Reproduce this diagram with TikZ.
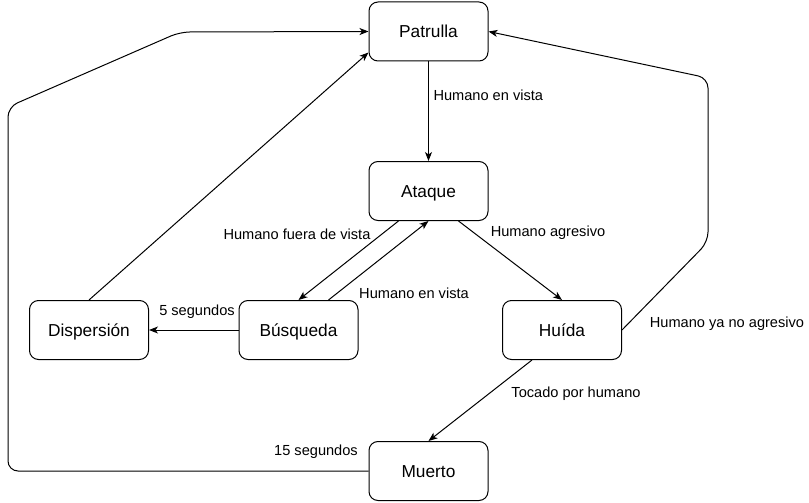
\documentclass[tikz,border=0pt]{standalone}
\usepackage{fontspec}
\setmainfont{Liberation Sans}
\usetikzlibrary{arrows.meta}
\begin{document}
\begin{tikzpicture}[x=1pt,y=-1pt,line width=1pt,>={Stealth[length=9pt,width=7pt,inset=2.5pt]}]
\tikzstyle{estado} = [draw,rounded corners=9pt,minimum width=119pt,minimum height=59pt,text height=16pt,text depth=3.6pt,font=\fontsize{17.3}{20}\selectfont]
\tikzstyle{ann} = [font=\fontsize{14.6}{17}\selectfont,inner sep=1pt]
\useasboundingbox (0,0) rectangle (809,503);

\node[estado] (patrulla) at (428.5,31.5) {Patrulla};
\node[estado] (ataque) at (428.5,191) {Ataque};
\node[estado] (dispersion) at (89,330) {Dispersión};
\node[estado] (busqueda) at (298.5,330) {Búsqueda};
\node[estado] (huida) at (562,330) {Huída};
\node[estado] (muerto) at (428.5,471) {Muerto};

\draw[->] (patrulla) -- (ataque);
\node[ann,anchor=west] at (432,95) {Humano en vista};
\draw[->] ([xshift=-30pt]ataque.south) -- (busqueda.north);
\node[ann] at (297,234) {Humano fuera de vista};
\draw[->] ([xshift=30pt]busqueda.north) -- (ataque.south);
\node[ann] at (414,293) {Humano en vista};
\draw[->] ([xshift=30pt]ataque.south) -- (huida.north);
\node[ann] at (548,233) {Humano agresivo};
\draw[->] (busqueda) -- (dispersion);
\node[ann] at (197,312) {5 segundos};
\draw[->] (dispersion.north) -- ([yshift=9pt]patrulla.south west);
\draw[->] (huida.south) ++(-30,0) -- (muerto.north);
\node[ann] at (576,394) {Tocado por humano};
\draw[->,rounded corners=10pt] (muerto.west) -- (8,471) -- (8,107) -- (180,32) -- (patrulla.west);
\node[ann] at (316,452) {15 segundos};
\draw[->,rounded corners=10pt] (huida.east) -- (708,242) -- (708,78) -- (patrulla.east);
\node[ann] at (727,324) {Humano ya no agresivo};
\end{tikzpicture}
\end{document}
